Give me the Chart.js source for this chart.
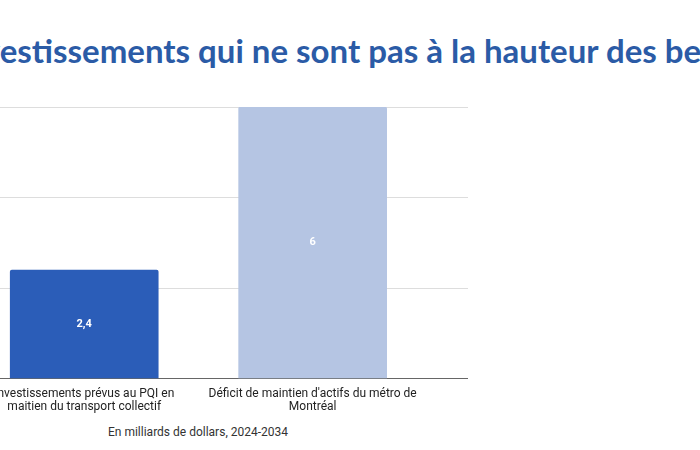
<!DOCTYPE html>
<html lang="fr">
<head>
<meta charset="utf-8">
<script src="https://cdn.jsdelivr.net/npm/chart.js@4.4.1/dist/chart.umd.min.js"></script>
<style>
  html, body { margin: 0; padding: 0; background: #fff; }
  body { width: 700px; height: 450px; position: relative; overflow: hidden; }
  #title {
    position: absolute; left: -45px; top: 30px;
    font: bold 33px Lato, sans-serif; color: #2b5ba6;
    white-space: nowrap; margin: 0;
  }
  #chartWrap { position: absolute; left: -30px; top: 100px; width: 498px; height: 315px; }
  #note {
    position: absolute; left: 0; width: 396px; top: 425px;
    text-align: center; font: 12px Roboto, sans-serif; color: #333;
  }
</style>
</head>
<body>
<h1 id="title">Investissements qui ne sont pas à la hauteur des besoins</h1>
<div id="chartWrap"><canvas id="chart"></canvas></div>
<div id="note">En milliards de dollars, 2024-2034</div>
<script>
const categories = [
  ['Investissements prévus au PQI en', 'maitien du transport collectif'],
  ["Déficit de maintien d'actifs du métro de", 'Montréal']
];
const values = [2.4, 6];
const barColors = ['#2b5db8', '#b5c5e3'];
const yTicks = [0, 2, 4, 6];

// value labels drawn in the middle of each bar
const barValueLabels = {
  id: 'barValueLabels',
  afterDatasetsDraw(chart) {
    const ctx = chart.ctx;
    ctx.save();
    ctx.fillStyle = '#fff';
    ctx.font = 'bold 11px Roboto, sans-serif';
    ctx.textAlign = 'center';
    ctx.textBaseline = 'middle';
    chart.getDatasetMeta(0).data.forEach((bar, i) => {
      const mid = (bar.y + bar.base) / 2;
      ctx.fillText(values[i].toLocaleString('fr-CA'), bar.x, mid);
    });
    ctx.restore();
  }
};

new Chart(document.getElementById('chart'), {
  type: 'bar',
  plugins: [barValueLabels],
  data: {
    datasets: [{
      data: values.map((v, i) => ({ x: i, y: v })),
      backgroundColor: barColors,
      barThickness: 148,
      borderRadius: 2,
      borderSkipped: 'bottom'
    }]
  },
  options: {
    responsive: true,
    maintainAspectRatio: false,
    animation: false,
    layout: { padding: { top: 7, left: 0, right: 0, bottom: 0 } },
    plugins: { legend: { display: false }, tooltip: { enabled: false } },
    scales: {
      x: {
        type: 'linear',
        offset: false,
        min: -0.5,
        max: 1.68,
        afterBuildTicks: (scale) => { scale.ticks = categories.map((_, i) => ({ value: i })); },
        grid: { display: false },
        border: { display: true, color: '#666', width: 1 },
        ticks: {
          autoSkip: false,
          maxRotation: 0,
          padding: 1,
          color: '#222',
          font: { family: 'Roboto', size: 12, lineHeight: 1.1 },
          callback: (value) => categories[value]
        }
      },
      y: {
        min: 0,
        max: yTicks[yTicks.length - 1],
        afterBuildTicks: (scale) => { scale.ticks = yTicks.map(v => ({ value: v })); },
        grid: { color: '#dddddd', drawTicks: false },
        border: { display: false },
        ticks: { display: false }
      }
    }
  }
});
</script>
</body>
</html>
